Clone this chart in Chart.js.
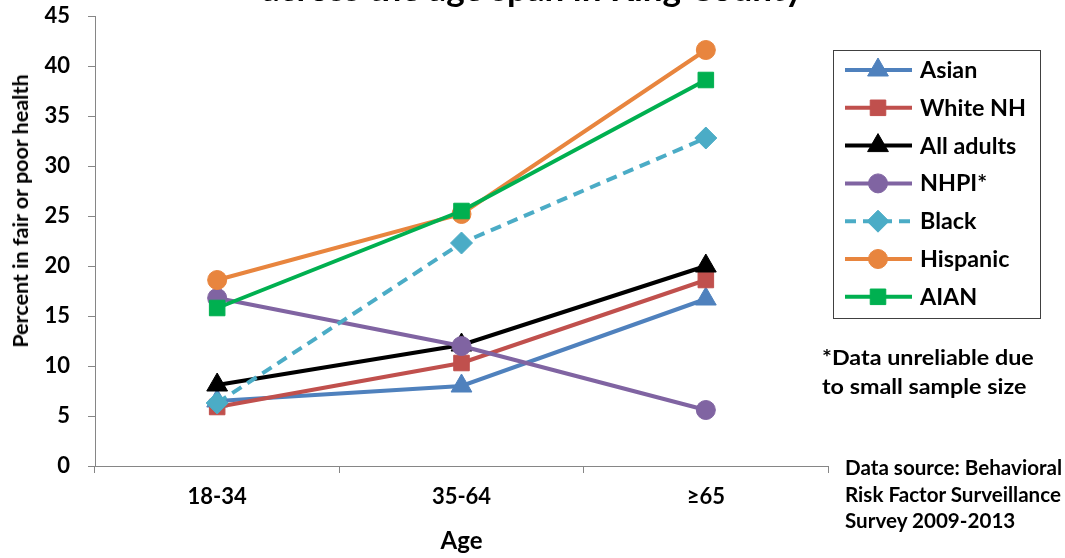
<!DOCTYPE html>
<html lang="en">
<head>
<meta charset="UTF-8">
<title>Fair or poor health by age</title>
<script src="https://cdn.jsdelivr.net/npm/chart.js"></script>
<style>
    body { margin: 0; }
    .wrap { position: relative; width: 1065px; height: 558px; overflow: hidden; background: #fff; font-family: Lato, "Open Sans", sans-serif; font-weight: bold; color: #000; }
    .title { position: absolute; left: 0; width: 1065px; top: -33px; text-align: center; font-size: 35px; line-height: 40px; }
    .ytitle { position: absolute; left: 20px; top: 211px; transform: translate(-50%, -50%) rotate(-90deg); white-space: nowrap; font-size: 21.5px; }
    .note { position: absolute; left: 822px; top: 342px; font-size: 21px; line-height: 29px; transform: scaleX(1.11); transform-origin: left top; white-space: nowrap; }
    .source { position: absolute; left: 845px; top: 454px; font-size: 20px; line-height: 26.5px; transform: scaleX(1.03); transform-origin: left top; white-space: nowrap; }
    canvas { position: absolute; left: 0; top: 0; }
</style>
</head>
<body>
<div class="wrap">
    <canvas id="chart" width="1065" height="558"></canvas>
    <div class="title">across the age span in King County</div>
    <div class="ytitle">Percent in fair or poor health</div>
    <div class="note">*Data unreliable due<br>to small sample size</div>
    <div class="source">Data source: Behavioral<br>Risk Factor Surveillance<br>Survey 2009-2013</div>
</div>
<script>
    // 数据
    const ageGroups = ['18-34', '35-64', '≥65'];
    const asian = [6.5, 8.0, 16.7];
    const whiteNH = [5.9, 10.3, 18.6];
    const allAdults = [8.1, 12.1, 20.0];
    const nhpi = [16.8, 12.0, 5.6];
    const black = [6.3, 22.3, 32.8];
    const hispanic = [18.6, 25.2, 41.6];
    const aian = [15.8, 25.5, 38.6];

    const seriesNames = ['Asian', 'White NH', 'All adults', 'NHPI*', 'Black', 'Hispanic', 'AIAN'];
    const seriesData = [asian, whiteNH, allAdults, nhpi, black, hispanic, aian];
    const seriesColors = ['#4F81BD', '#C0504D', '#000000', '#8064A2', '#4BACC6', '#E8853E', '#00B050'];
    const seriesPoints = ['triangle', 'rect', 'triangle', 'circle', 'rectRot', 'circle', 'rect'];
    const seriesRadius = { triangle: 12, rect: 11, circle: 9.5, rectRot: 11 };

    const datasets = seriesNames.map((name, i) => ({
        label: name,
        data: seriesData[i],
        borderColor: seriesColors[i],
        backgroundColor: seriesColors[i],
        borderWidth: 4,
        borderDash: name === 'Black' ? [11, 7] : [],
        pointStyle: seriesPoints[i],
        pointRadius: seriesRadius[seriesPoints[i]],
        pointBorderWidth: 1,
        tension: 0,
        order: seriesNames.length - i
    }));

    // 画图例（线 + 标记 + 文字）
    const legendPlugin = {
        id: 'boxLegend',
        afterDraw(chart) {
            const ctx = chart.ctx;
            ctx.save();
            ctx.strokeStyle = '#404040';
            ctx.lineWidth = 1;
            ctx.strokeRect(833.5, 50.5, 207, 268);
            chart.data.datasets.forEach((ds, i) => {
                const y = 70 + i * 37.8;
                ctx.strokeStyle = ds.borderColor;
                ctx.fillStyle = ds.backgroundColor;
                ctx.lineWidth = 4;
                ctx.setLineDash(ds.borderDash);
                ctx.beginPath();
                ctx.moveTo(845, y);
                ctx.lineTo(912, y);
                ctx.stroke();
                ctx.setLineDash([]);
                ctx.lineWidth = 1;
                Chart.helpers.drawPoint(ctx, { pointStyle: ds.pointStyle, radius: ds.pointRadius, rotation: 0, borderWidth: 1 }, 878, y);
                ctx.save();
                ctx.translate(920, y + 1);
                ctx.scale(1.06, 1);
                ctx.fillStyle = '#000';
                ctx.font = 'bold 22px Lato';
                ctx.textBaseline = 'middle';
                ctx.textAlign = 'left';
                ctx.fillText(ds.label, 0, 0);
                ctx.restore();
            });
            ctx.restore();
        }
    };

    new Chart(document.getElementById('chart'), {
        type: 'line',
        data: { labels: ageGroups, datasets: datasets },
        plugins: [legendPlugin],
        options: {
            responsive: false,
            animation: false,
            layout: { padding: { left: 0, right: 237, top: 16, bottom: 0 } },
            plugins: { legend: { display: false }, tooltip: { enabled: false } },
            scales: {
                x: {
                    offset: true,
                    grid: { offset: true, drawOnChartArea: false, tickLength: 7, color: '#868686' },
                    border: { color: '#868686', width: 1 },
                    ticks: { color: '#000', padding: 11, font: { family: 'Lato', size: 22, weight: 'bold' } },
                    title: { display: true, text: 'Age', color: '#000', padding: { top: 0, bottom: 2 }, font: { family: 'Lato', size: 24, weight: 'bold' } },
                    afterFit: (scale) => { scale.height = 92; }
                },
                y: {
                    min: 0,
                    max: 45,
                    ticks: { stepSize: 5, color: '#000', padding: 18, font: { family: 'Lato', size: 22, weight: 'bold' } },
                    grid: { drawOnChartArea: false, tickLength: 7, color: '#868686' },
                    border: { color: '#868686', width: 1 },
                    afterFit: (scale) => {
                        scale.width = 95;
                        scale.paddingTop = 0;
                        scale.paddingBottom = 0;
                    }
                }
            }
        }
    });
</script>
</body>
</html>
